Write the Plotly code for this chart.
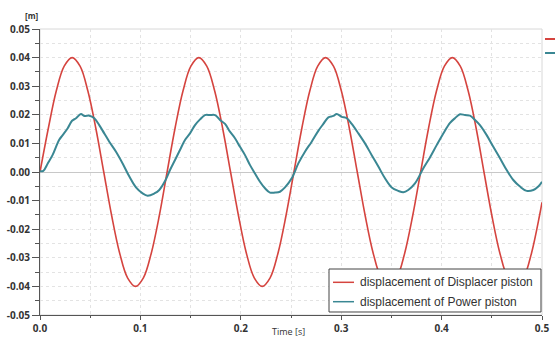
import plotly.graph_objects as go

# ---- data ----
disp_t = [0.0, 0.0083, 0.0162, 0.0241, 0.032, 0.0399, 0.0477, 0.0556,
          0.0635, 0.0714, 0.0793, 0.0872, 0.0951, 0.1030, 0.1109, 0.1188,
          0.1266, 0.1345, 0.1424, 0.1503, 0.1582, 0.1661, 0.1740, 0.1819,
          0.1898, 0.1977, 0.2055, 0.2134, 0.2213, 0.2292, 0.2371, 0.2450,
          0.2529, 0.2608, 0.2687, 0.2766, 0.2844, 0.2923, 0.3002, 0.3081,
          0.3160, 0.3239, 0.3318, 0.3397, 0.3476, 0.3555, 0.3633, 0.3712,
          0.3791, 0.3870, 0.3949, 0.4028, 0.4107, 0.4186, 0.4265, 0.4344,
          0.4422, 0.4501, 0.4580, 0.4659, 0.4738, 0.4817, 0.4896, 0.4975, 0.5]
disp_v = [0.0, 0.0153, 0.0283, 0.037, 0.04, 0.037, 0.0283, 0.0153,
          0.0, -0.0153, -0.0283, -0.037, -0.04, -0.037, -0.0283, -0.0153,
          0.0, 0.0153, 0.0283, 0.037, 0.04, 0.037, 0.0283, 0.0153,
          0.0, -0.0153, -0.0283, -0.037, -0.04, -0.037, -0.0283, -0.0153,
          0.0, 0.0153, 0.0283, 0.037, 0.04, 0.037, 0.0283, 0.0153,
          0.0, -0.0153, -0.0283, -0.037, -0.04, -0.037, -0.0283, -0.0153,
          0.0, 0.0153, 0.0283, 0.037, 0.04, 0.037, 0.0283, 0.0153,
          0.0, -0.0153, -0.0283, -0.037, -0.04, -0.037, -0.0283, -0.0153, -0.0106]

power_t = [0.0, 0.0033, 0.0077, 0.0126, 0.019, 0.0226, 0.0276, 0.0319, 0.0359,
           0.0408, 0.0441, 0.0491, 0.0541, 0.059, 0.064, 0.069, 0.0757, 0.0823,
           0.089, 0.0956, 0.1022, 0.1072, 0.1139, 0.1188, 0.1248, 0.1295,
           0.1345, 0.1394, 0.1444, 0.1494, 0.1544, 0.1594, 0.1643, 0.1693,
           0.1743, 0.1793, 0.1843, 0.1892, 0.1942, 0.1992, 0.2042, 0.2092,
           0.2141, 0.2191, 0.2241, 0.2291, 0.2341, 0.239, 0.244, 0.2507,
           0.2573, 0.2639, 0.2706, 0.2772, 0.2822, 0.2872, 0.2922, 0.2955,
           0.3005, 0.3055, 0.3105, 0.3171, 0.3237, 0.3304, 0.337, 0.3436,
           0.3503, 0.3569, 0.3619, 0.3668, 0.3735, 0.3818, 0.3884, 0.3951,
           0.4017, 0.4084, 0.4133, 0.4183, 0.4233, 0.4283, 0.4333, 0.4382,
           0.4449, 0.4515, 0.4582, 0.4648, 0.4714, 0.4781, 0.4847, 0.4914,
           0.4963, 0.5]
power_v = [0.0003, 0.0004, 0.003, 0.006, 0.0112, 0.0129, 0.0153, 0.0179, 0.0188,
           0.0203, 0.0196, 0.0197, 0.0188, 0.0164, 0.0135, 0.0106, 0.0071, 0.003,
           -0.0016, -0.0054, -0.0075, -0.0083, -0.0075, -0.0063, -0.003, 0.0007,
           0.0042, 0.0077, 0.0112, 0.0135, 0.0164, 0.0184, 0.0199, 0.0199,
           0.0199, 0.0182, 0.0168, 0.0141, 0.0118, 0.0088, 0.0059, 0.0024,
           -0.0005, -0.0034, -0.0057, -0.0072, -0.0072, -0.0069, -0.0054, -0.0022,
           0.003, 0.0071, 0.0106, 0.0144, 0.0168, 0.0191, 0.0196, 0.0203,
           0.0193, 0.0188, 0.0168, 0.0135, 0.01, 0.0059, 0.0019, -0.0022,
           -0.0054, -0.0066, -0.0071, -0.0063, -0.004, 0.0013, 0.0051, 0.0094,
           0.0135, 0.0172, 0.0188, 0.0202, 0.0199, 0.0197, 0.0182, 0.0164,
           0.0129, 0.0088, 0.0048, 0.0007, -0.0028, -0.0051, -0.0066, -0.0063,
           -0.0051, -0.0034]

x_tickvals = [0.0, 0.1, 0.2, 0.3, 0.4, 0.5]
x_ticktext = ["0.0", "0.1", "0.2", "0.3", "0.4", "0.5"]
y_tickvals = [-0.05, -0.04, -0.03, -0.02, -0.01, 0.0, 0.01, 0.02, 0.03, 0.04, 0.05]
y_ticktext = ["-0.05", "-0.04", "-0.03", "-0.02", "-0.01", "0.00",
              "0.01", "0.02", "0.03", "0.04", "0.05"]

series_names = ["displacement of Displacer piston", "displacement of Power piston"]
y_unit = "[m]"
x_title = "Time [s]"

RED = "#d5443f"
TEAL = "#3a8793"

fig = go.Figure()
fig.add_trace(go.Scatter(x=disp_t, y=disp_v, mode="lines", name=series_names[0],
                         line=dict(color=RED, width=1.6, shape="spline", smoothing=1.0),
                         showlegend=False))
fig.add_trace(go.Scatter(x=power_t, y=power_v, mode="lines", name=series_names[1],
                         line=dict(color=TEAL, width=2, shape="spline", smoothing=1.0),
                         showlegend=False))

tickfont = dict(family="Open Sans", size=10, color="#333333", weight="bold")
grid = "#e3e3e3"

fig.update_xaxes(range=[0, 0.5], tickvals=x_tickvals, ticktext=x_ticktext,
                 automargin=False,
                 ticks="outside", ticklen=4, tickcolor="#555555", tickwidth=1,
                 showline=True, linecolor="#555555", linewidth=1,
                 showgrid=True, gridcolor=grid, griddash="dot", gridwidth=1,
                 zeroline=False, tickfont=tickfont,
                 minor=dict(dtick=0.05, ticks="outside", ticklen=2, tickcolor="#555555",
                            showgrid=True, gridcolor=grid, griddash="dot"))
fig.update_yaxes(range=[-0.05, 0.05], tickvals=y_tickvals, ticktext=y_ticktext,
                 automargin=False,
                 ticks="outside", ticklen=7, tickcolor="#555555", tickwidth=1,
                 showline=True, linecolor="#555555", linewidth=1,
                 showgrid=True, gridcolor=grid, griddash="dot", gridwidth=1,
                 zeroline=True, zerolinecolor="#c8c8c8", zerolinewidth=1,
                 tickfont=tickfont,
                 minor=dict(dtick=0.005, ticks="outside", ticklen=4, tickcolor="#555555",
                            showgrid=True, gridcolor=grid, griddash="dot"))

shapes = [
    # light frame on top/right
    dict(type="rect", xref="paper", yref="paper", x0=0, x1=1, y0=0, y1=1,
         line=dict(color="#d8d8d8", width=1), layer="below"),
    # manual legend box
    dict(type="rect", xref="paper", yref="paper", x0=0.5757, x1=0.998, y0=0.0105, y1=0.1608,
         line=dict(color="#444444", width=1), fillcolor="white", layer="above"),
    dict(type="line", xref="paper", yref="paper", x0=0.5837, x1=0.6255, y0=0.1143, y1=0.1143,
         line=dict(color=RED, width=1.5), layer="above"),
    dict(type="line", xref="paper", yref="paper", x0=0.5837, x1=0.6255, y0=0.0465, y1=0.0465,
         line=dict(color=TEAL, width=1.5), layer="above"),
    # cut-off marks at right edge
    dict(type="line", xref="paper", yref="paper", x0=1.006, x1=1.03, y0=0.965, y1=0.965,
         line=dict(color=RED, width=2)),
    dict(type="line", xref="paper", yref="paper", x0=1.006, x1=1.03, y0=0.916, y1=0.916,
         line=dict(color=TEAL, width=2)),
]

legfont = dict(family="Liberation Sans", size=12, color="#333333")
annotations = [
    dict(text=series_names[0], xref="paper", yref="paper", x=0.6335, y=0.1143,
         xanchor="left", yanchor="middle", showarrow=False, font=legfont),
    dict(text=series_names[1], xref="paper", yref="paper", x=0.6335, y=0.0465,
         xanchor="left", yanchor="middle", showarrow=False, font=legfont),
    dict(text=y_unit, xref="paper", yref="paper", x=-0.016, y=1.0455,
         xanchor="center", yanchor="middle", showarrow=False,
         font=dict(family="Open Sans", size=8, color="#333333", weight="bold")),
    dict(text=x_title, xref="paper", yref="paper", x=0.496, y=-0.028,
         xanchor="center", yanchor="top", showarrow=False,
         font=dict(family="Open Sans", size=9, color="#333333")),
]

fig.update_layout(width=555, height=338,
                  margin=dict(l=40, r=13, t=29, b=23),
                  paper_bgcolor="white", plot_bgcolor="white",
                  shapes=shapes, annotations=annotations, showlegend=False)

# remove the page's default body margin so the figure sits at the window's corner
fig.write_html("out.html", config={"displayModeBar": False},
               post_script="document.body.style.margin='0';document.body.style.overflow='hidden';")
